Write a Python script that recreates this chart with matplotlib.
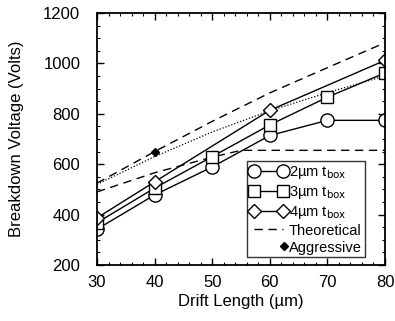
import matplotlib
matplotlib.use("Agg")
import matplotlib.pyplot as plt
from matplotlib.ticker import MultipleLocator
from matplotlib.lines import Line2D
from matplotlib.legend_handler import HandlerLine2D
import numpy as np

plt.rcParams['font.family'] = ['Liberation Sans', 'DejaVu Sans']

drift = [30, 40, 50, 60, 70, 80]
v_2um = [342, 478, 589, 714, 774, 774]
v_3um = [368, 505, 630, 756, 866, 962]
v_4um_x = [30, 40, 60, 80]
v_4um = [387, 530, 814, 1012]

theo_x = [30, 40, 50, 60, 70, 80]
theo_y = [525, 650, 770, 883, 983, 1082]
theo2_x = [30, 40, 50, 55, 60, 70, 80]
theo2_y = [490, 566, 628, 655, 655, 655, 655]
dot_x = [30, 40, 50, 60, 70, 80]
dot_y = [520, 630, 728, 812, 884, 950]
aggr_x = [40]
aggr_y = [649]


class RightMarkerHandler(HandlerLine2D):
    def get_xdata(self, legend, xdescent, ydescent, width, height, fontsize):
        xd = np.array([-xdescent + width * 0.9])
        return xd, xd


fig = plt.figure(figsize=(3.95, 3.21), dpi=100)
ax = fig.add_axes([0.2456, 0.1745, 0.7291, 0.785])

lw = 1.0
ms = 9.5
ax.plot(dot_x, dot_y, ls=(0, (1, 1.5)), color='black', lw=0.9)
ax.plot(theo_x, theo_y, ls=(0, (6, 4)), color='black', lw=1.0)
ax.plot(theo2_x, theo2_y, ls=(0, (6, 4)), color='black', lw=1.0)
l2, = ax.plot(drift, v_2um, marker='o', ms=ms, mfc='white', mec='black', color='black', lw=lw, mew=1.0)
l3, = ax.plot(drift, v_3um, marker='s', ms=ms - 1.5, mfc='white', mec='black', color='black', lw=lw, mew=1.0)
l4, = ax.plot(v_4um_x, v_4um, marker='D', ms=ms - 2.5, mfc='white', mec='black', color='black', lw=lw, mew=1.0)
ag, = ax.plot(aggr_x, aggr_y, marker='D', ms=4.5, color='black', ls='none')

theo_h = Line2D([], [], ls=(0, (6, 4)), color='black', lw=1.0)

ax.set_xlim(30, 80)
ax.set_ylim(200, 1200)
ax.xaxis.set_major_locator(MultipleLocator(10))
ax.xaxis.set_minor_locator(MultipleLocator(2))
ax.yaxis.set_major_locator(MultipleLocator(200))
ax.yaxis.set_minor_locator(MultipleLocator(50))
ax.tick_params(which='both', direction='in', top=True, right=True, labelsize=12)
ax.tick_params(which='major', length=5, width=1.0)
ax.tick_params(axis='y', which='major', pad=12)
ax.tick_params(axis='x', which='major', pad=7)
ax.tick_params(which='minor', length=2.5, width=0.8)
for s in ax.spines.values():
    s.set_linewidth(1.3)

ax.set_xlabel('Drift Length (\u00b5m)', fontsize=12, labelpad=3)
ax.set_ylabel('Breakdown Voltage (Volts)', fontsize=12, labelpad=14)

leg = ax.legend([l2, l3, l4, theo_h, ag],
                ['2\u00b5m t$_{\\mathrm{box}}$', '3\u00b5m t$_{\\mathrm{box}}$',
                 '4\u00b5m t$_{\\mathrm{box}}$', 'Theoretical', 'Aggressive'],
                loc='lower right', bbox_to_anchor=(0.93, 0.03), fontsize=10.5,
                numpoints=2, handlelength=2.6, handletextpad=0.1,
                frameon=True, fancybox=False, edgecolor='black',
                borderpad=0.2, labelspacing=0.2, borderaxespad=0,
                handler_map={ag: RightMarkerHandler(numpoints=1)})
leg.get_frame().set_linewidth(1.0)

fig.savefig('out.png', dpi=100)
